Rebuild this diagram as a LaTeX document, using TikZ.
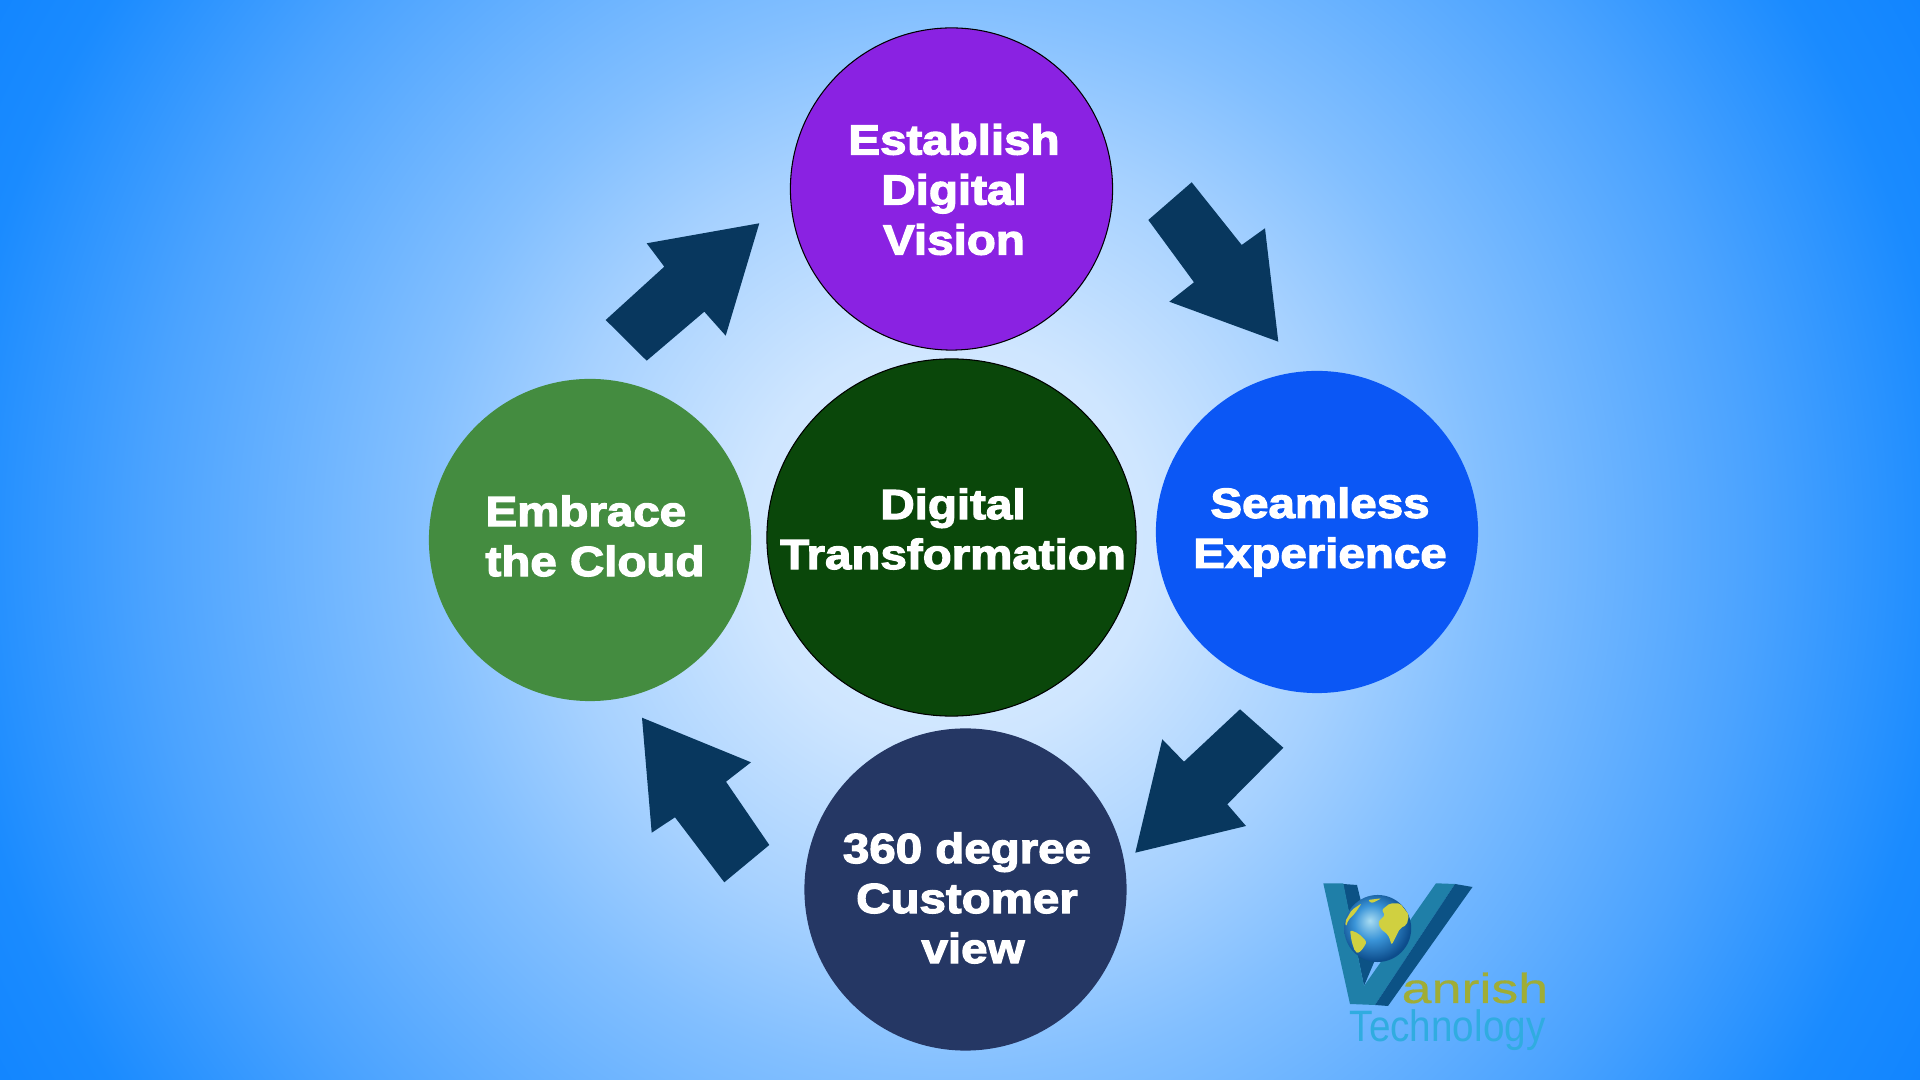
\documentclass[tikz,border=0pt]{standalone}
\usepackage{fontspec}
\usepackage{xcolor}
\usetikzlibrary{shapes.geometric}
\newfontfamily\blackfont[FakeStretch=1.13,FakeBold=3]{Liberation Sans Bold}
\newfontfamily\logofont[FakeStretch=1.28,FakeBold=0.4]{Liberation Sans}
\newfontfamily\techfont[FakeStretch=0.88]{Liberation Sans}
\definecolor{arrowblue}{HTML}{08375E}
\definecolor{visionpurple}{HTML}{8A22E2}
\definecolor{coregreen}{HTML}{0A470A}
\definecolor{seamblue}{HTML}{0B57F5}
\definecolor{cloudgreen}{HTML}{448C40}
\definecolor{viewnavy}{HTML}{253764}
\definecolor{logoteal}{HTML}{1F7FA8}
\definecolor{logodark}{HTML}{0C5285}
\definecolor{landyellow}{HTML}{D0D040}
\definecolor{anrisholive}{HTML}{A0AD35}
\definecolor{techcyan}{HTML}{30ACE0}
\definecolor{glowa}{HTML}{DCEEFF}
\definecolor{glowb}{HTML}{CFE6FF}
\definecolor{glowc}{HTML}{A6D1FF}
\definecolor{glowd}{HTML}{82BFFF}
\definecolor{glowe}{HTML}{4BA3FF}
\definecolor{glowf}{HTML}{1A8BFF}
\definecolor{glowg}{HTML}{0A80FF}
\definecolor{balla}{HTML}{A8DCF2}
\definecolor{ballb}{HTML}{3A94D8}
\definecolor{ballc}{HTML}{0D4D8C}
\pgfdeclareradialshading{bgglow}{\pgfpoint{0bp}{0bp}}{
  color(0bp)=(glowa);
  color(4.17bp)=(glowb);
  color(8.33bp)=(glowc);
  color(11.25bp)=(glowd);
  color(16.67bp)=(glowe);
  color(20.83bp)=(glowf);
  color(25bp)=(glowg);
  color(50bp)=(glowg)}
\pgfdeclareradialshading{ballblue}{\pgfpoint{-6bp}{6bp}}{
  color(0bp)=(balla);
  color(13bp)=(ballb);
  color(27bp)=(ballc);
  color(50bp)=(ballc)}
\tikzset{
  bubble/.style = {circle, inner sep = 0pt, minimum size = 3.22cm},
  caption/.style = {text = white, align = center, inner sep = 0pt,
    font = \blackfont\fontsize{11.95}{14.22}\selectfont},
  bigarrow/.style = {fill = arrowblue},
  land/.style = {fill = landyellow, rounded corners = 0.6pt},
}
\begin{document}
\begin{tikzpicture}[x = 0.01cm, y = -0.01cm]
	\useasboundingbox (0,0) rectangle (1920,1080);

	% background
	\begin{scope}
		\clip (0,0) rectangle (1920,1080);
		\shade [shading = bgglow] (950,540) circle (12cm);
	\end{scope}

	% circles
	\node [bubble, fill = visionpurple, draw = black, line width = 0.3pt] (vision) at (951.5,189) {};
	\node [ellipse, inner sep = 0pt, minimum width = 3.69cm, minimum height = 3.57cm,
		fill = coregreen, draw = black, line width = 0.3pt] (core) at (951.5,537.5) {};
	\node [bubble, fill = seamblue] (seamless) at (1317,532) {};
	\node [bubble, fill = cloudgreen] (cloud) at (590,540) {};
	\node [bubble, fill = viewnavy] (customer) at (965.5,889.5) {};

	% labels
	\node [caption] (visiontext) at (954,189.5) {Establish\\Digital\\Vision};
	\node [caption] (coretext) at (953,529) {Digital\\Transformation};
	\node [caption] (seamlesstext) at (1320,532) {Seamless\\Experience};
	\node [caption, align = left] (cloudtext) at (595,536) {Embrace\\the Cloud};
	\node [caption] (customertext) at (967,898) {360 degree\\Customer\\\hspace{0.12cm}view};

	% arrows
	\fill [bigarrow] (1191.7,182.3) -- (1148.3,220) -- (1194,282.3) -- (1169.3,301.7)
		-- (1278.3,341.7) -- (1265,228.3) -- (1241.7,245) -- cycle;
	\fill [bigarrow] (1240,709.3) -- (1283.3,747.7) -- (1227.3,804.3) -- (1246,826)
		-- (1135.3,852.7) -- (1162.3,739.3) -- (1184,761.7) -- cycle;
	\fill [bigarrow] (642,717.7) -- (751,762.3) -- (726,781.7) -- (769.3,845)
		-- (724.3,882.3) -- (675,817.3) -- (651.7,832.7) -- cycle;
	\fill [bigarrow] (605.7,320) -- (646.7,360.7) -- (704.3,311.7) -- (725.7,335.7)
		-- (759.3,223.3) -- (646.7,243.3) -- (664.3,266.7) -- cycle;

	% logo
	\fill [logodark] (1343,884) -- (1357,885) -- (1375,960) -- (1364,986) -- cycle;
	\fill [logoteal] (1323.3,883.3) -- (1343.3,883.3) -- (1364,986) -- (1436,883.3)
		-- (1455,884) -- (1375,1005) -- (1350,1004) -- cycle;
	\fill [logodark] (1455,884) -- (1472.5,887) -- (1388,1006) -- (1375,1005) -- cycle;
	\shade [shading = ballblue] (1377.7,928.5) circle (0.335cm);
	\fill [land] (1345,921.7) -- (1351.7,910) -- (1361.7,903.3) -- (1355,913.3) -- (1348.3,920) -- (1346,926.7) -- cycle;
	\fill [land] (1350,930) -- (1358.3,933.3) -- (1366.7,941.7) -- (1363.3,948.3) -- (1358.3,953.3) -- (1355,951.7) -- (1351.7,941.7) -- cycle;
	\fill [land] (1367.7,900) -- (1381.7,898.3) -- (1371.7,903.3) -- cycle;
	\fill [land] (1378.3,921.7) -- (1385,915) -- (1381.7,910) -- (1390,903.3) -- (1400,903.3) -- (1409,915)
		-- (1406.7,925) -- (1400,928.3) -- (1391.7,945) -- (1388.3,935) -- (1380,928.3) -- cycle;
	\node [text = anrisholive, anchor = base west, inner sep = 0pt,
		font = \logofont\fontsize{11.95}{14}\selectfont] (vanrish) at (1401,1003) {anrish};
	\node [text = techcyan, anchor = base west, inner sep = 0pt,
		font = \techfont\fontsize{12.5}{14}\selectfont] (technology) at (1349,1041.7) {Technology};
\end{tikzpicture}
\end{document}
